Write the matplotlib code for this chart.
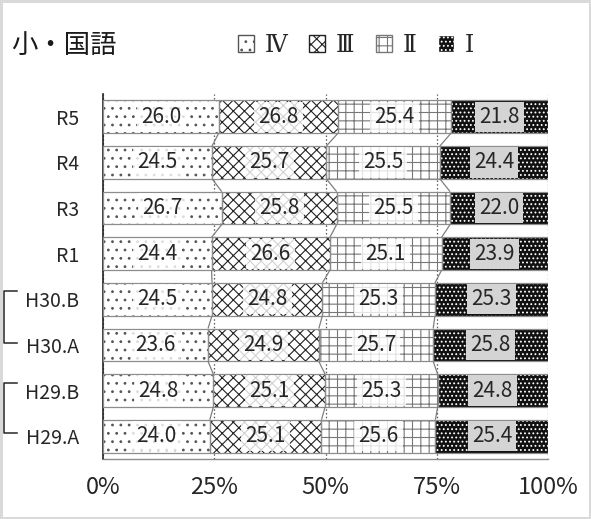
import matplotlib
matplotlib.use("Agg")
import matplotlib.pyplot as plt
from matplotlib.patches import Rectangle
from matplotlib.lines import Line2D
import numpy as np

plt.rcParams['font.family'] = ['Noto Sans CJK JP', 'DejaVu Sans']
plt.rcParams['hatch.linewidth'] = 0.8

categories = ["R5", "R4", "R3", "R1", "H30.B", "H30.A", "H29.B", "H29.A"]
series_names = ["Ⅳ", "Ⅲ", "Ⅱ", "Ⅰ"]
level_iv = [26.0, 24.5, 26.7, 24.4, 24.5, 23.6, 24.8, 24.0]
level_iii = [26.8, 25.7, 25.8, 26.6, 24.8, 24.9, 25.1, 25.1]
level_ii = [25.4, 25.5, 25.5, 25.1, 25.3, 25.7, 25.3, 25.6]
level_i = [21.8, 24.4, 22.0, 23.9, 25.3, 25.8, 24.8, 25.4]
xtick_labels = ["0%", "25%", "50%", "75%", "100%"]

series = [level_iv, level_iii, level_ii, level_i]
# fill colour, hatch colour, hatch pattern, label box colour
styles = [
    ("white", "#555555", "..", "white"),
    ("white", "#222222", "xxx", "white"),
    ("white", "#777777", "++", "white"),
    ("#111111", "white", "....", "#d4d4d4"),
]

fig = plt.figure(figsize=(5.91, 5.19), dpi=100)
fig.patch.set_facecolor("white")
fig.patch.set_edgecolor("#d9d9d9")
fig.patch.set_linewidth(2.5)

ax = fig.add_axes([103 / 591, 60 / 519, 445 / 591, 365 / 519])
y = np.arange(len(categories))
bar_h = 0.72

left = np.zeros(len(categories))
bounds = []
for vals, (fc, hc, hatch, boxc) in zip(series, styles):
    vals = np.array(vals)
    ax.barh(y, vals, left=left, height=bar_h, color=fc, edgecolor=hc,
            hatch=hatch, linewidth=0, zorder=2)
    ax.barh(y, vals, left=left, height=bar_h, fill=False,
            edgecolor="#8c8c8c", linewidth=0.9, zorder=3)
    for yi, l, v in zip(y, left, vals):
        ax.text(l + v / 2, yi, f"{v:.1f}", ha="center", va="center",
                fontsize=15, color="#262626", zorder=5,
                bbox=dict(boxstyle="square,pad=0.2", fc=boxc, ec="none",
                          alpha=0.8 if boxc == "white" else 1.0))
    left = left + vals
    bounds.append(left.copy())

# series lines between neighbouring bars
for b in bounds[:-1]:
    for i in range(len(categories) - 1):
        ax.plot([b[i], b[i + 1]], [y[i] + bar_h / 2, y[i + 1] - bar_h / 2],
                color="#7f7f7f", lw=0.9, zorder=4, solid_capstyle="butt")

ax.set_xlim(0, 100)
ax.set_ylim(len(categories) - 0.5, -0.5)
ax.set_xticks([0, 25, 50, 75, 100])
ax.set_xticklabels(xtick_labels, fontsize=17, color="#262626")
ax.set_yticks(y)
ax.set_yticklabels(categories, fontsize=14, color="#262626")
ax.tick_params(axis="x", length=0, pad=12)
ax.tick_params(axis="y", length=0, pad=17)
ax.xaxis.grid(True, linestyle=(0, (1.2, 1.8)), color="#555555", lw=0.9)
ax.set_axisbelow(True)
for s in ["top", "right"]:
    ax.spines[s].set_visible(False)
ax.spines["left"].set_color("#222222")
ax.spines["left"].set_linewidth(1.2)
ax.spines["bottom"].set_color("#8c8c8c")
ax.spines["bottom"].set_linewidth(1.0)

# brackets pairing the A/B rounds
def bracket(y_top, y_bot):
    xs = [17 / 591, 4 / 591, 4 / 591, 17 / 591]
    ys = [1 - y_top / 519, 1 - y_top / 519, 1 - y_bot / 519, 1 - y_bot / 519]
    fig.add_artist(Line2D(xs, ys, color="#262626", lw=1.1))

bracket(291, 343)
bracket(383, 433)

fig.text(11 / 591, 1 - 45 / 519, "小・国語", fontsize=19, color="#1a1a1a",
         ha="left", va="center")

handles = [Rectangle((0, 0), 1, 1, facecolor=fc, edgecolor=hc, hatch=h, lw=1)
           for fc, hc, h, _ in styles]
leg = fig.legend(handles, series_names, loc="center",
                 bbox_to_anchor=(356 / 591, 1 - 45 / 519), ncol=4,
                 frameon=False, handlelength=0.7, handleheight=0.7,
                 handletextpad=0.45, columnspacing=0.9,
                 prop=dict(family=["DejaVu Serif", "Noto Sans CJK JP"], size=17))
for t in leg.get_texts():
    t.set_color("#262626")

fig.savefig("out.png", dpi=100, facecolor=fig.get_facecolor(),
            edgecolor=fig.get_edgecolor())
